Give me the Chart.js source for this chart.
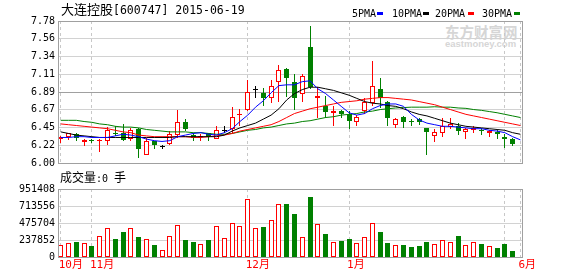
<!DOCTYPE html>
<html><head><meta charset="utf-8">
<script src="https://cdn.jsdelivr.net/npm/chart.js@4.4.1/dist/chart.umd.min.js"></script>
<style>
html,body{margin:0;padding:0;background:#fff;}
#wrap{position:relative;width:578px;height:276px;overflow:hidden;background:#fff;}
canvas{position:absolute;left:0;}
.t{position:absolute;white-space:nowrap;color:#000;z-index:5;}
.cjk{font-family:"Noto Sans CJK SC";}
.mono{font-family:"DejaVu Sans Mono";}
.dash{position:absolute;width:6px;height:3px;z-index:5;}
</style></head>
<body><div id="wrap">
<div class="t" style="left:61px;top:1px;line-height:16px;"><span class="cjk" style="font-size:13px;">大连控股</span><span class="mono" style="font-size:11.5px;">[600747] 2015-06-19</span></div>
<div class="t mono" style="left:352px;top:8px;font-size:10px;line-height:12px;">5PMA</div><div class="dash" style="left:377px;top:12px;background:#0000ff;"></div>
<div class="t mono" style="left:392px;top:8px;font-size:10px;line-height:12px;">10PMA</div><div class="dash" style="left:423px;top:12px;background:#000000;"></div>
<div class="t mono" style="left:435px;top:8px;font-size:10px;line-height:12px;">20PMA</div><div class="dash" style="left:468px;top:12px;background:#ff0000;"></div>
<div class="t mono" style="left:482px;top:8px;font-size:10px;line-height:12px;">30PMA</div><div class="dash" style="left:514px;top:12px;background:#008000;"></div>
<div class="t cjk" style="left:445px;top:23px;font-size:14.5px;line-height:18px;font-weight:bold;color:#d6d6d6;z-index:1;">东方财富网</div>
<div class="t" style="left:445px;top:38px;font-family:'Liberation Sans';font-size:9.5px;line-height:12px;font-weight:bold;color:#d6d6d6;z-index:1;">eastmoney.com</div>
<div class="t" style="left:60px;top:170px;line-height:14px;"><span class="cjk" style="font-size:12px;">成交量</span><span class="mono" style="font-size:10px;">:0 </span><span class="cjk" style="font-size:12px;">手</span></div>
<canvas id="price" width="578" height="172" style="top:0;z-index:2;"></canvas>
<canvas id="vol" width="578" height="96" style="top:180px;z-index:2;"></canvas>
</div>
<script>
// ---- data ----
const openP  = [6.30,6.32,6.36,6.26,6.29,6.27,6.28,6.38,6.37,6.30,6.43,6.10,6.27,6.21,6.24,6.35,6.52,6.35,6.32,6.37,6.30,6.41,6.42,6.60,6.67,6.92,6.88,6.82,7.02,7.18,7.02,6.87,7.45,6.82,6.71,6.63,6.65,6.62,6.52,6.65,6.75,6.93,6.77,6.48,6.58,6.525,6.55,6.44,6.34,6.38,6.45,6.47,6.39,6.41,6.415,6.38,6.39,6.33,6.30];
const highP  = [6.34,6.38,6.37,6.30,6.30,6.30,6.45,6.46,6.49,6.44,6.44,6.31,6.28,6.23,6.40,6.67,6.55,6.37,6.36,6.38,6.46,6.46,6.70,6.68,7.04,6.97,6.94,7.04,7.23,7.19,7.12,7.11,7.72,6.95,6.84,6.71,6.66,6.65,6.60,6.82,7.28,7.07,6.78,6.57,6.59,6.555,6.56,6.44,6.42,6.56,6.57,6.50,6.44,6.47,6.44,6.41,6.41,6.36,6.31];
const lowP   = [6.25,6.29,6.27,6.21,6.25,6.14,6.23,6.34,6.28,6.27,6.06,6.10,6.17,6.17,6.23,6.31,6.40,6.28,6.27,6.28,6.30,6.37,6.38,6.46,6.65,6.81,6.72,6.75,6.76,6.83,6.67,6.77,6.93,6.56,6.56,6.47,6.56,6.42,6.47,6.62,6.71,6.69,6.46,6.44,6.44,6.47,6.48,6.10,6.26,6.33,6.42,6.35,6.30,6.38,6.35,6.33,6.30,6.19,6.21];
const closeP = [6.33,6.37,6.31,6.29,6.28,6.29,6.41,6.36,6.29,6.41,6.17,6.28,6.22,6.21,6.36,6.52,6.42,6.31,6.34,6.33,6.41,6.41,6.58,6.62,6.89,6.92,6.82,6.97,7.17,7.06,6.82,7.09,6.95,6.84,6.64,6.65,6.61,6.53,6.58,6.77,6.97,6.81,6.56,6.55,6.51,6.515,6.52,6.39,6.39,6.47,6.49,6.40,6.42,6.44,6.405,6.40,6.36,6.30,6.24];
const volume = [168000,200000,214000,200000,158000,298000,406000,256000,345000,406000,284000,252000,172000,102000,298000,452000,233000,205000,186000,233000,438000,270000,480000,438000,816000,406000,424000,522000,746000,736000,596000,284000,834000,466000,316000,214000,218000,246000,200000,284000,480000,345000,190000,172000,172000,144000,158000,214000,186000,242000,214000,298000,172000,214000,186000,158000,130000,186000,78000];
const ma5  = [6.32,6.32,6.33,6.33,6.32,6.32,6.32,6.34,6.36,6.35,6.33,6.30,6.28,6.27,6.28,6.33,6.35,6.37,6.38,6.36,6.35,6.38,6.43,6.52,6.60,6.70,6.78,6.88,6.97,6.98,6.98,7.02,7.03,6.93,6.87,6.79,6.71,6.63,6.60,6.62,6.68,6.72,6.74,6.74,6.71,6.61,6.54,6.50,6.48,6.46,6.46,6.45,6.44,6.43,6.43,6.41,6.40,6.38,6.33,6.29];
const ma10 = [6.39,6.37,6.35,6.34,6.33,6.32,6.32,6.32,6.32,6.32,6.32,6.32,6.32,6.32,6.32,6.33,6.33,6.33,6.33,6.33,6.33,6.35,6.40,6.44,6.47,6.50,6.55,6.60,6.68,6.79,6.87,6.92,6.95,6.95,6.93,6.91,6.88,6.85,6.81,6.77,6.75,6.74,6.72,6.71,6.68,6.64,6.61,6.59,6.56,6.53,6.50,6.48,6.46,6.45,6.44,6.43,6.42,6.41,6.38,6.36];
const ma20 = [6.49,6.48,6.47,6.46,6.45,6.44,6.43,6.41,6.39,6.38,6.35,6.34,6.33,6.33,6.33,6.33,6.33,6.32,6.32,6.33,6.34,6.35,6.37,6.40,6.42,6.44,6.46,6.48,6.52,6.57,6.62,6.65,6.68,6.70,6.72,6.74,6.76,6.77,6.78,6.80,6.81,6.82,6.82,6.81,6.80,6.79,6.77,6.75,6.73,6.70,6.67,6.64,6.61,6.59,6.57,6.55,6.53,6.51,6.49,6.47];
const ma30 = [6.535,6.535,6.535,6.52,6.51,6.49,6.48,6.46,6.45,6.45,6.44,6.42,6.41,6.40,6.39,6.39,6.39,6.38,6.38,6.37,6.36,6.36,6.37,6.39,6.41,6.42,6.44,6.45,6.47,6.49,6.50,6.52,6.53,6.55,6.57,6.58,6.60,6.61,6.62,6.64,6.65,6.67,6.68,6.69,6.695,6.70,6.70,6.70,6.705,6.70,6.70,6.69,6.685,6.67,6.66,6.645,6.63,6.61,6.59,6.57];
const priceTicks  = [6.00,6.22,6.45,6.67,6.89,7.11,7.34,7.56,7.78];
const volumeTicks = [0,237852,475704,713556,951408];
const monthTickIdx    = [0,4,24,37,57,59];
const monthTickLabels = ['10月','11月','12月','1月','','6月'];

const UP='#ff0000', DOWN='#008000', DOJI='#000000';
function dirColor(i){ return closeP[i]>openP[i]?UP:(closeP[i]<openP[i]?DOWN:DOJI); }
const X_MIN=-0.35, X_MAX=59.2;

const framePlugin={id:'frame',afterDraw(c){const a=c.chartArea,ctx=c.ctx;ctx.save();ctx.strokeStyle='#a0a0a0';ctx.lineWidth=1;
 ctx.strokeRect(Math.floor(a.left)+0.5,Math.floor(a.top)+0.5,Math.round(a.right-a.left),Math.round(a.bottom-a.top));ctx.restore();}};
// snap library-computed bar/point positions to whole pixels so the marks stay crisp
const snapPlugin={id:'snap',beforeDatasetsDraw(c){
 c.data.datasets.forEach((ds,di)=>{const meta=c.getDatasetMeta(di);
  meta.data.forEach(el=>{
   if(meta.type==='bar'){const w=el.width;const left=Math.round(el.x-w/2);el.x=left+w/2;
     let top=Math.round(Math.min(el.y,el.base)),bot=Math.round(Math.max(el.y,el.base));if(bot-top<1)bot=top+1;
     if(el.y<=el.base){el.y=top;el.base=bot;}else{el.y=bot;el.base=top;}}
   else if(ds.pointStyle==='line'){el.x=Math.round(el.x-0.5)+0.5;el.y=Math.floor(el.y)+0.5;}
  });});}};

const wickData=openP.map((o,i)=>({x:i,y:[lowP[i],highP[i]]}));
const bodyData=[]; openP.forEach((o,i)=>{ if(o!==closeP[i]) bodyData.push({x:i,y:[Math.min(o,closeP[i]),Math.max(o,closeP[i])]}); });
const dojiData=[]; openP.forEach((o,i)=>{ if(o===closeP[i]) dojiData.push({x:i,y:closeP[i]}); });
const maLine=(arr,color,ord)=>({type:'line',data:arr.map((v,i)=>({x:i,y:v})),borderColor:color,borderWidth:1,pointRadius:0,tension:0,order:ord,fill:false});
const monoFont={family:"'DejaVu Sans Mono'",size:10};

new Chart(document.getElementById('price'),{
 type:'bar',
 data:{datasets:[
  maLine(ma5,'#0000ff',0), maLine(ma10,'#000000',1), maLine(ma20,'#ff0000',2), maLine(ma30,'#008000',3),
  {type:'line',data:dojiData,showLine:false,pointStyle:'line',pointRadius:2.5,pointBorderColor:DOJI,pointBorderWidth:1,order:4},
  {type:'bar',data:bodyData,grouped:false,barThickness:5,inflateAmount:0,borderWidth:1,borderSkipped:false,
   borderColor:c=>dirColor(c.raw.x),backgroundColor:c=>dirColor(c.raw.x)===UP?'#ffffff':DOWN,order:5},
  {type:'bar',data:wickData,grouped:false,barThickness:1,inflateAmount:0,borderWidth:0,
   backgroundColor:c=>dirColor(c.raw.x),order:6}
 ]},
 options:{responsive:false,animation:false,devicePixelRatio:1,
  layout:{padding:{left:0,right:56,top:21,bottom:7}},
  plugins:{legend:{display:false},tooltip:{enabled:false}},
  scales:{
   x:{type:'linear',min:X_MIN,max:X_MAX,offset:false,
      afterBuildTicks:s=>{s.ticks=monthTickIdx.map(v=>({value:v}));},
      ticks:{display:false},grid:{offset:false,drawTicks:false,color:'#c8c8c8'},border:{display:false,dash:[3,3]},
      afterFit:s=>{s.height=0;}},
   y:{type:'linear',min:6.00,max:7.78,
      afterBuildTicks:s=>{s.ticks=priceTicks.map(v=>({value:v}));},
      ticks:{autoSkip:false,padding:3,color:'#000',font:monoFont,callback:v=>Number(v).toFixed(2)},
      grid:{drawTicks:false,color:c=>(c.tick&&c.tick.value===6.89)?'#a0a0a0':'#d2d2d2'},border:{display:false},
      afterFit:s=>{s.width=58;}}
  }},
 plugins:[snapPlugin,framePlugin]
});

new Chart(document.getElementById('vol'),{
 type:'bar',
 data:{datasets:[
  {type:'bar',data:volume.map((v,i)=>({x:i,y:v})),grouped:false,barThickness:5,inflateAmount:0,borderWidth:1,borderSkipped:false,
   borderColor:c=>dirColor(c.raw.x)===DOWN?DOWN:UP,backgroundColor:c=>dirColor(c.raw.x)===DOWN?DOWN:'#ffffff'}
 ]},
 options:{responsive:false,animation:false,devicePixelRatio:1,
  layout:{padding:{left:0,right:56,top:9,bottom:0}},
  plugins:{legend:{display:false},tooltip:{enabled:false}},
  scales:{
   x:{type:'linear',min:X_MIN,max:X_MAX,offset:false,
      afterBuildTicks:s=>{s.ticks=monthTickIdx.map(v=>({value:v}));},
      ticks:{autoSkip:false,maxRotation:0,minRotation:0,align:'start',labelOffset:-2,padding:2,color:'#ff0000',
             font:{family:"'DejaVu Sans Mono','Noto Sans CJK SC'",size:11},callback:(v,i)=>monthTickLabels[i]},
      grid:{offset:false,drawTicks:false,color:'#c8c8c8'},border:{display:false,dash:[3,3]},
      afterFit:s=>{s.height=19;}},
   y:{type:'linear',min:0,max:951408,
      afterBuildTicks:s=>{s.ticks=volumeTicks.map(v=>({value:v}));},
      ticks:{autoSkip:false,padding:3,color:'#000',font:monoFont,callback:v=>String(v)},
      grid:{drawTicks:false,color:c=>(c.tick&&c.tick.value===951408)?'#a0a0a0':'#d2d2d2'},border:{display:false},
      afterFit:s=>{s.width=58;}}
  }},
 plugins:[snapPlugin,framePlugin]
});
</script>
</body></html>
